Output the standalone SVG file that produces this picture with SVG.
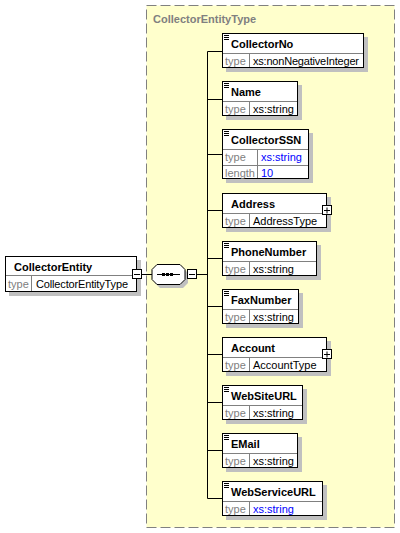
<svg xmlns="http://www.w3.org/2000/svg" width="400" height="533" viewBox="0 0 400 533">
<style>
text{font-family:"Liberation Sans",Arial,sans-serif;font-size:11px}
.hd{font-weight:bold;fill:#000}
.lb{fill:#808080}
.v{fill:#000}
.b{fill:#0000FF}
.box{fill:#fff;stroke:#000;stroke-width:1}
.sh{fill:#C0C0C0}
.dv{stroke:#808080;stroke-width:1;fill:none}
.cn{stroke:#000;stroke-width:1;fill:none}
.ic{stroke:#000;stroke-width:1}
.title{font-weight:bold;fill:#808080}
</style>
<defs>
<g id="icon"><path class="ic" d="M224,35.5h5M224,37.5h5M224,39.5h5"/></g>
</defs>
<g id="container">
<rect x="146.5" y="5.5" width="248" height="522" fill="#FFFFCC" stroke="#808080" stroke-dasharray="10 4"/>
<text class="title" x="153" y="23">CollectorEntityType</text>
</g>
<g id="connectors">
<path class="cn" d="M142,274.5H152M197,274.5H207.5M207.5,51.5V498.5"/>
<path class="cn" d="M207.5,51.5H223M207.5,99.5H223M207.5,154.5H223M207.5,210.5H223M207.5,258.5H223M207.5,306.5H223M207.5,354.5H223M207.5,402.5H223M207.5,450.5H223M207.5,498.5H223"/>
</g>
<g id="CollectorEntity">
<rect class="sh" x="9" y="260" width="132" height="36"/>
<rect class="box" x="5.5" y="256.5" width="131" height="35"/>
<path class="dv" d="M6,275.5H136M31.5,276V291"/>
<text class="hd" x="14" y="271">CollectorEntity</text>
<text class="lb" x="8" y="288">type</text>
<text class="v" x="36" y="288" textLength="92">CollectorEntityType</text>
<rect class="box" x="132.5" y="269.5" width="9" height="9"/>
<path class="ic" d="M134,274.5h6"/>
</g>
<g id="sequence">
<path class="sh" d="M160,268H183L188,273V283L183,288H160L155,283V273Z"/>
<path class="box" d="M157,264.5H180L185,269.5V279.5L180,284.5H157L152,279.5V269.5Z"/>
<path class="ic" d="M157,274.5H180"/>
<rect x="162" y="273" width="3" height="3" fill="#000"/>
<rect x="166" y="273" width="3" height="3" fill="#000"/>
<rect x="170" y="273" width="3" height="3" fill="#000"/>
<rect class="box" x="187.5" y="269.5" width="9" height="9"/>
<path class="ic" d="M189,274.5h6"/>
</g>
<g id="CollectorNo">
<rect class="sh" x="226" y="37" width="142" height="35"/>
<rect class="box" x="222.5" y="33.5" width="141" height="34"/>
<path class="dv" d="M223,53.5H363M249.5,54V67"/>
<use href="#icon"/>
<text class="hd" x="231" y="48">CollectorNo</text>
<text class="lb" x="225" y="65">type</text>
<text class="v" x="253" y="65" textLength="106">xs:nonNegativeInteger</text>
</g>
<g id="Name">
<rect class="sh" x="226" y="85" width="76" height="35"/>
<rect class="box" x="222.5" y="81.5" width="75" height="34"/>
<path class="dv" d="M223,101.5H297M249.5,102V115"/>
<use href="#icon" y="48"/>
<text class="hd" x="231" y="96">Name</text>
<text class="lb" x="225" y="113">type</text>
<text class="v" x="253" y="113">xs:string</text>
</g>
<g id="CollectorSSN">
<rect class="sh" x="226" y="133" width="87" height="50"/>
<rect class="box" x="222.5" y="129.5" width="86" height="49"/>
<path class="dv" d="M223,149.5H308M223,165.5H308M257.5,150V178"/>
<use href="#icon" y="96"/>
<text class="hd" x="231" y="144">CollectorSSN</text>
<text class="lb" x="225" y="161">type</text>
<text class="b" x="261" y="161">xs:string</text>
<text class="lb" x="225" y="177">length</text>
<text class="b" x="261" y="177">10</text>
</g>
<g id="Address">
<rect class="sh" x="226" y="197" width="105" height="35"/>
<rect class="box" x="222.5" y="193.5" width="104" height="34"/>
<path class="dv" d="M223,213.5H326M249.5,214V227"/>
<text class="hd" x="231" y="208">Address</text>
<text class="lb" x="225" y="225">type</text>
<text class="v" x="253" y="225">AddressType</text>
<rect class="box" x="322.5" y="205.5" width="9" height="9"/>
<path class="ic" d="M324,210.5h6M327,207.5v6"/>
</g>
<g id="PhoneNumber">
<rect class="sh" x="226" y="245" width="95" height="35"/>
<rect class="box" x="222.5" y="241.5" width="94" height="34"/>
<path class="dv" d="M223,261.5H316M249.5,262V275"/>
<use href="#icon" y="208"/>
<text class="hd" x="231" y="256">PhoneNumber</text>
<text class="lb" x="225" y="273">type</text>
<text class="v" x="253" y="273">xs:string</text>
</g>
<g id="FaxNumber">
<rect class="sh" x="226" y="293" width="77" height="35"/>
<rect class="box" x="222.5" y="289.5" width="76" height="34"/>
<path class="dv" d="M223,309.5H298M249.5,310V323"/>
<use href="#icon" y="256"/>
<text class="hd" x="231" y="304">FaxNumber</text>
<text class="lb" x="225" y="321">type</text>
<text class="v" x="253" y="321">xs:string</text>
</g>
<g id="Account">
<rect class="sh" x="226" y="341" width="105" height="35"/>
<rect class="box" x="222.5" y="337.5" width="104" height="34"/>
<path class="dv" d="M223,357.5H326M249.5,358V371"/>
<text class="hd" x="231" y="352">Account</text>
<text class="lb" x="225" y="369">type</text>
<text class="v" x="253" y="369">AccountType</text>
<rect class="box" x="322.5" y="349.5" width="9" height="9"/>
<path class="ic" d="M324,354.5h6M327,351.5v6"/>
</g>
<g id="WebSiteURL">
<rect class="sh" x="226" y="389" width="81" height="35"/>
<rect class="box" x="222.5" y="385.5" width="80" height="34"/>
<path class="dv" d="M223,405.5H302M249.5,406V419"/>
<use href="#icon" y="352"/>
<text class="hd" x="231" y="400">WebSiteURL</text>
<text class="lb" x="225" y="417">type</text>
<text class="v" x="253" y="417">xs:string</text>
</g>
<g id="EMail">
<rect class="sh" x="226" y="437" width="76" height="35"/>
<rect class="box" x="222.5" y="433.5" width="75" height="34"/>
<path class="dv" d="M223,453.5H297M249.5,454V467"/>
<use href="#icon" y="400"/>
<text class="hd" x="231" y="448">EMail</text>
<text class="lb" x="225" y="465">type</text>
<text class="v" x="253" y="465">xs:string</text>
</g>
<g id="WebServiceURL">
<rect class="sh" x="226" y="485" width="101" height="35"/>
<rect class="box" x="222.5" y="481.5" width="100" height="34"/>
<path class="dv" d="M223,501.5H322M249.5,502V515"/>
<use href="#icon" y="448"/>
<text class="hd" x="231" y="496">WebServiceURL</text>
<text class="lb" x="225" y="513">type</text>
<text class="b" x="253" y="513">xs:string</text>
</g>
</svg>
